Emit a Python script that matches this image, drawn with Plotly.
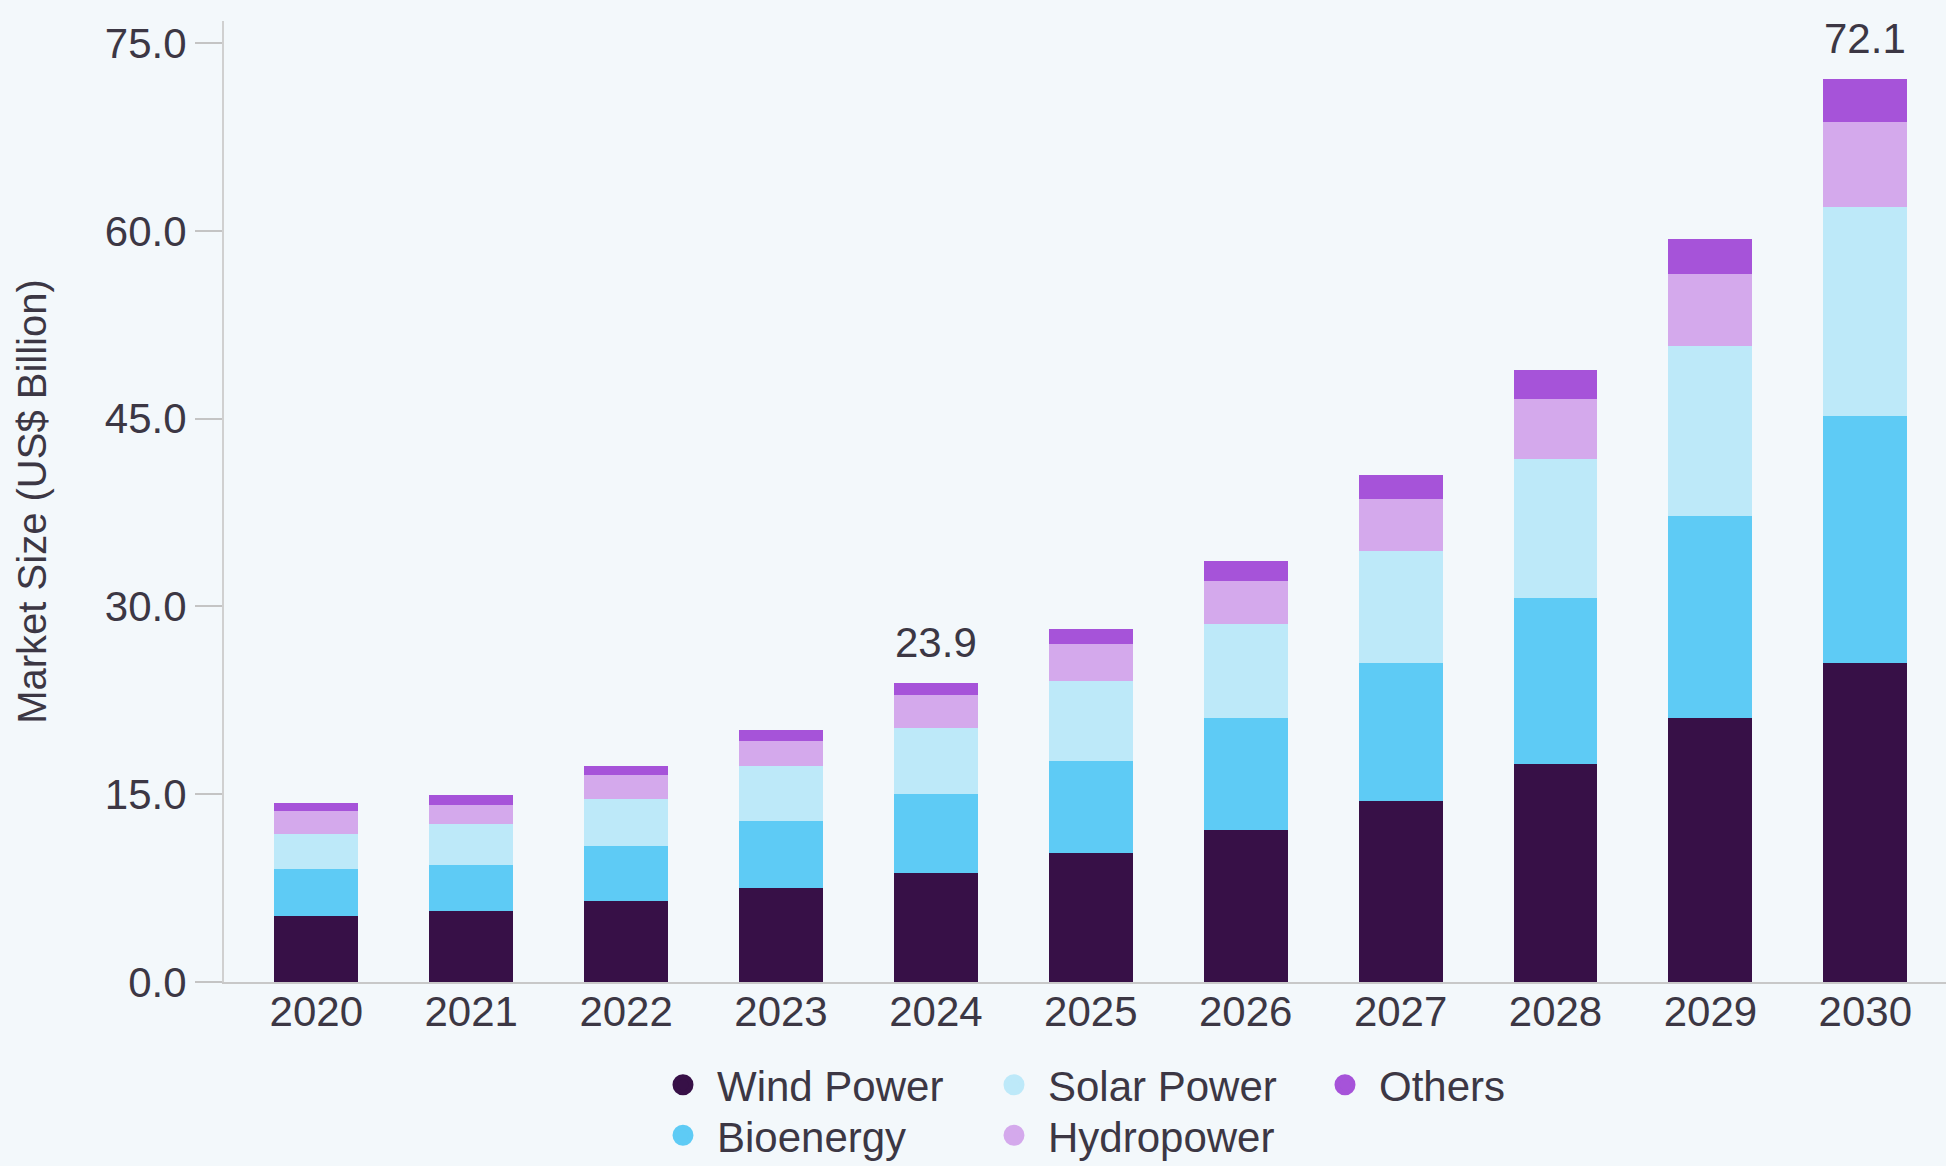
import plotly.graph_objects as go

years = ["2020", "2021", "2022", "2023", "2024", "2025", "2026", "2027", "2028", "2029", "2030"]
wind = [5.27, 5.65, 6.47, 7.51, 8.68, 10.29, 12.12, 14.49, 17.45, 21.05, 25.45]
bio = [3.79, 3.67, 4.39, 5.35, 6.37, 7.39, 9.00, 10.96, 13.23, 16.17, 19.77]
solar = [2.80, 3.27, 3.79, 4.37, 5.27, 6.38, 7.48, 8.97, 11.09, 13.57, 16.72]
hydro = [1.81, 1.52, 1.92, 2.02, 2.58, 2.91, 3.41, 4.17, 4.80, 5.78, 6.79]
others = [0.59, 0.82, 0.69, 0.91, 0.99, 1.26, 1.61, 1.89, 2.30, 2.76, 3.37]
labeled_years = ["2024", "2030"]
tick_vals = [0, 15, 30, 45, 60, 75]

series = [
    ("Wind Power", wind, "#371047", "legend"),
    ("Bioenergy", bio, "#5ecbf5", "legend2"),
    ("Solar Power", solar, "#bde9f9", "legend"),
    ("Hydropower", hydro, "#d4a9ec", "legend2"),
    ("Others", others, "#a653d9", "legend"),
]

FONT = "Liberation Sans, Arial, sans-serif"
TXT = "#3c3744"

fig = go.Figure()
for name, vals, color, lg in series:
    fig.add_trace(go.Bar(x=years, y=vals, name=name, marker=dict(color=color, line=dict(width=0)),
                         showlegend=False, legendgroup=name))
for name, vals, color, lg in series:
    fig.add_trace(go.Scatter(x=[None], y=[None], mode="markers", name=name, legendgroup=name,
                             legend=lg, showlegend=True,
                             marker=dict(size=16, color=color, line=dict(width=5, color=color))))

totals = [sum(v) for v in zip(wind, bio, solar, hydro, others)]
for i, (yr, tot) in enumerate(zip(years, totals)):
    if yr in labeled_years:
        fig.add_annotation(x=i, y=tot, xref="x", yref="y", text=f"{tot:.1f}", showarrow=False,
                           xanchor="center", yanchor="bottom", yshift=15,
                           font=dict(size=42, color=TXT, family=FONT))

legend_common = dict(orientation="h", xanchor="left", yanchor="middle", entrywidth=258,
                     entrywidthmode="pixels", itemwidth=58, bgcolor="rgba(0,0,0,0)",
                     font=dict(size=42, color=TXT, family=FONT), traceorder="normal",
                     xref="paper", yref="container")

fig.update_layout(
    width=1946, height=1166,
    margin=dict(l=224, r=0, t=21, b=184),
    paper_bgcolor="#f3f8fb", plot_bgcolor="#f3f8fb",
    barmode="stack", bargap=0.458,
    font=dict(family=FONT, color=TXT, size=42),
    legend=dict(x=0.2468, y=0.0695, **legend_common),
    legend2=dict(x=0.2468, y=0.0262, **legend_common),
    xaxis=dict(type="category", range=[-0.596, 10.521], showgrid=False, showline=True,
               linecolor="#c8c8c8", linewidth=2, ticks="", tickfont=dict(size=42, color=TXT),
               zeroline=False, ticklabelstandoff=-8),
    yaxis=dict(range=[0, 76.76], tickvals=tick_vals, tickformat=".1f", showgrid=False,
               showline=True, linecolor="#d0d0d0", linewidth=2, ticks="outside", ticklen=27,
               tickcolor="#c4c4c4", tickwidth=2, zeroline=False,
               tickfont=dict(size=42, color=TXT),
               title=dict(text="Market Size (US$ Billion)", font=dict(size=40, color=TXT), standoff=46)),
)

fig.write_html("out.html", config={"displayModeBar": False},
               post_script="document.body.style.margin='0';document.body.style.overflow='hidden';")
